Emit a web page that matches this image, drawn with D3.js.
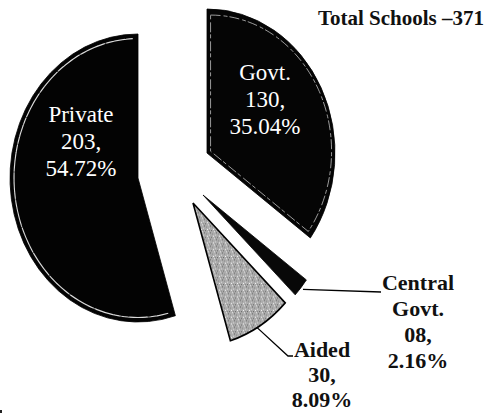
<!DOCTYPE html>
<html>
<head>
<meta charset="utf-8">
<script src="https://cdn.jsdelivr.net/npm/d3@7"></script>
<style>
  body { margin: 0; background: #fff; }
</style>
</head>
<body>
<div id="chart"></div>
<script>
// data
var categories = ["Govt.", "Central Govt.", "Aided", "Private"];
var counts = [130, 8, 30, 203];
var countLabels = ["130,", "08,", "30,", "203,"];
var percents = ["35.04%", "2.16%", "8.09%", "54.72%"];
var totalSchools = 371;

var width = 485, height = 415;
var rx = 128, ry = 144;
var serif = "'Liberation Serif'";

// exploded slices: each wedge gets its own apex offset from the base centre
var centre = [160, 180];
var explode = { "Govt.": [47, -27], "Central Govt.": [43, 15], "Aided": [33, 23], "Private": [-22, -2] };
var fills = { "Govt.": "#050505", "Central Govt.": "#080808", "Aided": "url(#aidedFill)", "Private": "#030303" };

var svg = d3.select("#chart")
  .append("svg")
  .attr("width", width)
  .attr("height", height);

// mottled grey for the aided wedge
var pat = svg.append("defs").append("pattern")
  .attr("id", "aidedFill")
  .attr("width", 6).attr("height", 6)
  .attr("patternUnits", "userSpaceOnUse");
pat.append("rect").attr("width", 6).attr("height", 6).attr("fill", "#acacac");
[[0, 0, "#6e6e6e"], [3, 1, "#e6e6e6"], [1, 3, "#888"], [4, 4, "#d8d8d8"], [5, 2, "#666"], [2, 5, "#f0f0f0"], [4, 0, "#8c8c8c"]]
  .forEach(function (p) {
    pat.append("rect").attr("x", p[0]).attr("y", p[1]).attr("width", 1).attr("height", 1).attr("fill", p[2]);
  });

var pie = d3.pie().sort(null).value(function (d) { return d; });
var arcs = pie(counts);

var arc = d3.arc().innerRadius(0).outerRadius(rx);

function apex(i) {
  var off = explode[categories[i]];
  return [centre[0] + off[0], centre[1] + off[1]];
}
function place(i) {
  var a = apex(i);
  return "translate(" + a[0] + "," + a[1] + ") scale(1," + (ry / rx) + ")";
}
// point on the (squashed) rim of slice i at angle ang, radius fraction k
function rim(i, ang, k) {
  var a = apex(i);
  return [a[0] + Math.sin(ang) * rx * k, a[1] - Math.cos(ang) * ry * k];
}

var slices = svg.append("g")
  .selectAll("g")
  .data(arcs)
  .enter()
  .append("g")
  .attr("transform", function (d, i) { return place(i); });

slices.append("path")
  .attr("d", arc)
  .attr("fill", function (d, i) { return fills[categories[i]]; })
  .attr("stroke", "#000")
  .attr("stroke-width", function (d, i) { return categories[i] == "Aided" ? 1.6 : 0.8; })
  .attr("vector-effect", "non-scaling-stroke");

// thin white bevel lines seen inside the dark wedges
var govt = arcs[0];
svg.append("path")
  .attr("transform", function () {
    var a = apex(0), mid = (govt.startAngle + govt.endAngle) / 2;
    return "translate(" + (a[0] + Math.sin(mid) * 4) + "," + (a[1] - Math.cos(mid) * 4) + ") scale(1," + (ry / rx) + ")";
  })
  .attr("d", d3.arc().innerRadius(0).outerRadius(rx - 7)(govt))
  .attr("fill", "none")
  .attr("stroke", "#fff")
  .attr("stroke-opacity", 0.75)
  .attr("stroke-width", 0.8)
  .attr("stroke-dasharray", "10 3 4 2")
  .attr("vector-effect", "non-scaling-stroke");

var priv = arcs[3];
svg.append("path")
  .attr("transform", place(3))
  .attr("d", d3.arc().innerRadius(rx - 4).outerRadius(rx - 4)
    .startAngle(priv.startAngle + 0.05).endAngle(priv.endAngle - 0.04)())
  .attr("fill", "none")
  .attr("stroke", "#fff")
  .attr("stroke-opacity", 0.85)
  .attr("stroke-width", 1.1)
  .attr("stroke-dasharray", "18 2 7 1")
  .attr("vector-effect", "non-scaling-stroke");

// labels inside the big wedges
var inside = [
  { i: 0, pos: [265, 80] },
  { i: 3, pos: [81, 122] }
];
inside.forEach(function (o) {
  var t = svg.append("text")
    .attr("text-anchor", "middle")
    .style("font-family", serif)
    .attr("fill", "#fff")
    .attr("font-size", 23);
  [categories[o.i], countLabels[o.i], percents[o.i]].forEach(function (s, k) {
    t.append("tspan").attr("x", o.pos[0]).attr("y", o.pos[1] + k * 27).text(s);
  });
});

// labels outside with leader lines
var central = arcs[1], aided = arcs[2];
var cTip = rim(1, (central.startAngle + central.endAngle) / 2, 1.02);
svg.append("polyline")
  .attr("points", [cTip, [381, 292]].map(function (p) { return p.join(","); }).join(" "))
  .attr("fill", "none").attr("stroke", "#000").attr("stroke-width", 1.3);

var aTip = rim(2, aided.startAngle + (aided.endAngle - aided.startAngle) * 0.55, 1.0);
svg.append("polyline")
  .attr("points", [aTip, [288, 356], [293, 356]].map(function (p) { return p.join(","); }).join(" "))
  .attr("fill", "none").attr("stroke", "#000").attr("stroke-width", 1.3);

var outside = [
  { lines: ["Central", "Govt.", countLabels[1], percents[1]], pos: [418, 290], gap: 26 },
  { lines: [categories[2], countLabels[2], percents[2]], pos: [322, 357], gap: 25 }
];
outside.forEach(function (o) {
  var t = svg.append("text")
    .attr("text-anchor", "middle")
    .style("font-family", serif)
    .attr("fill", "#111")
    .attr("font-weight", "bold")
    .attr("font-size", 22);
  o.lines.forEach(function (s, k) {
    t.append("tspan").attr("x", o.pos[0]).attr("y", o.pos[1] + k * o.gap).text(s);
  });
});

svg.append("text")
  .attr("x", 484)
  .attr("y", 25)
  .attr("text-anchor", "end")
  .style("font-family", serif)
  .attr("font-weight", "bold")
  .attr("font-size", 21)
  .attr("fill", "#111")
  .text("Total Schools \u2013" + totalSchools);

// small scan speck bottom-left
svg.append("rect").attr("x", 0).attr("y", 410).attr("width", 2).attr("height", 3).attr("fill", "#222");
</script>
</body>
</html>
